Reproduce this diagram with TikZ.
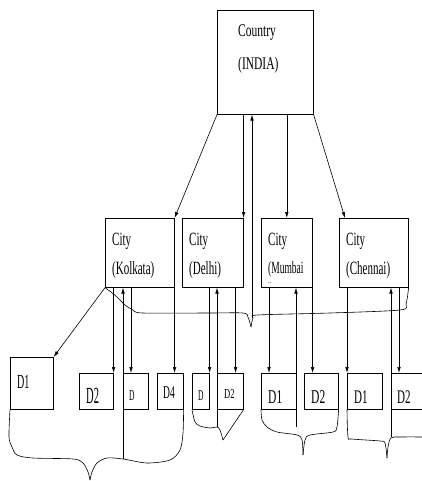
\documentclass[tikz,border=0pt]{standalone}
\usepackage{fontspec}
\setmainfont{Liberation Serif}
\usepackage{graphicx}
\usetikzlibrary{arrows.meta,calc}
\newcommand\stxt[3]{\fontsize{#1}{#1}\selectfont\scalebox{1}[#2]{#3}}
\begin{document}
\begin{tikzpicture}[x=1pt,y=-1pt,
  box/.style={draw, line width=0.6pt, inner sep=0pt, anchor=north west},
  lbl/.style={anchor=base west, inner sep=0pt},
  arr/.style={-{Latex[length=6pt,width=3.6pt]}, line width=0.6pt},
  ln/.style={line width=0.6pt},
  brace/.style={line width=0.6pt, smooth, tension=0.5}]
\useasboundingbox (0,0) rectangle (421,481);
% boxes
\node[box, minimum width=96pt, minimum height=104pt] (country) at (217,10) {};
\node[box, minimum width=69pt, minimum height=69pt] (kol) at (105,218) {};
\node[box, minimum width=61pt, minimum height=69pt] (del) at (182,218) {};
\node[box, minimum width=51pt, minimum height=69pt] (mum) at (261,218) {};
\node[box, minimum width=69pt, minimum height=69pt] (che) at (339,218) {};
\node[box, minimum width=43pt, minimum height=52pt] (k1) at (10,357) {};
\node[box, minimum width=34pt, minimum height=36pt] (k2) at (79,373) {};
\node[box, minimum width=25pt, minimum height=36pt] (k3) at (123,373) {};
\node[box, minimum width=26pt, minimum height=36pt] (k4) at (157,373) {};
\node[box, minimum width=17pt, minimum height=36pt] (d1) at (192,373) {};
\node[box, minimum width=26pt, minimum height=36pt] (d2) at (217,373) {};
\node[box, minimum width=35pt, minimum height=36pt] (m1) at (261,373) {};
\node[box, minimum width=34pt, minimum height=36pt] (m2) at (304,373) {};
\node[box, minimum width=35pt, minimum height=36pt] (c1) at (347,373) {};
\node[box, minimum width=35pt, minimum height=36pt] (c2) at (391,373) {};
% labels
\node[lbl] (tc1) at (238,37) {\stxt{11.5}{1.55}{Country}};
\node[lbl] (tc2) at (238,70) {\stxt{11.5}{1.55}{(INDIA)}};
\node[lbl] (tk1) at (112,245) {\stxt{11}{1.7}{City}};
\node[lbl] (tk2) at (112,274) {\stxt{11}{1.7}{(Kolkata)}};
\node[lbl] (td1) at (189,245) {\stxt{11}{1.7}{City}};
\node[lbl] (td2) at (189,274) {\stxt{11}{1.7}{(Delhi)}};
\node[lbl] (tm1) at (268,245) {\stxt{11}{1.7}{City}};
\node[lbl] (tm2) at (268,273) {\stxt{9.5}{1.8}{(Mumbai}};
\node[lbl] (tm3) at (268,283) {\stxt{7}{1}{..}};
\node[lbl] (th1) at (346,245) {\stxt{11}{1.7}{City}};
\node[lbl] (th2) at (346,274) {\stxt{11}{1.7}{(Chennai)}};
\node[lbl] (lk1) at (17,388) {\stxt{10}{2}{D1}};
\node[lbl] (lk2) at (86,403) {\stxt{10.5}{2.2}{D2}};
\node[lbl] (lk3) at (129,400) {\stxt{7.5}{2}{D}};
\node[lbl] (lk4) at (163,398) {\stxt{9.5}{1.9}{D4}};
\node[lbl] (ld1) at (198,400) {\stxt{7.5}{2}{D}};
\node[lbl] (ld2) at (224,398) {\stxt{8.5}{1.6}{D2}};
\node[lbl] (lm1) at (268,403) {\stxt{11.5}{1.7}{D1}};
\node[lbl] (lm2) at (311,403) {\stxt{11.5}{1.7}{D2}};
\node[lbl] (lc1) at (354,403) {\stxt{11}{1.75}{D1}};
\node[lbl] (lc2) at (397,403) {\stxt{11}{1.75}{D2}};
% top connectors
\draw[arr] (country.south west) -- (kol.north east);
\draw[arr] (country.south -| del.north east) -- (del.north east);
\coordinate (tUp) at (252,318);
\draw[arr] (tUp) -- (tUp |- country.south);
\draw[arr] (country.south -| mum.north) -- (mum.north);
\draw[arr] (country.south east) -- ($(che.north west)+(6,0)$);
% Kolkata
\draw[arr] (kol.south west) -- (k1.north east);
\draw[arr] (kol.south -| k2.north east) -- (k2.north east);
\coordinate (k3in) at ($(k3.north west)+(8,0)$);
\draw[arr] (kol.south -| k3in) -- (k3in);
\draw[arr] (kol.south east) -- (kol.south east |- k4.north);
\coordinate (kUp) at (123,459);
\draw[arr] (kUp) -- (kUp |- kol.south);
% Delhi
\draw[arr] (del.south -| d1.north east) -- (d1.north east);
\coordinate (dUp) at (217,427);
\draw[arr] (dUp) -- (dUp |- del.south);
\coordinate (d2in) at ($(d2.north east)+(-8,0)$);
\draw[arr] (del.south -| d2in) -- (d2in);
% Mumbai
\coordinate (m1in) at ($(m1.north west)+(8,0)$);
\draw[arr] (mum.south -| m1in) -- (m1in);
\coordinate (mUp) at (296,427);
\draw[arr] (mUp) -- (mUp |- mum.south);
\draw[arr] (mum.south east) -- (mum.south east |- m2.north);
% Chennai
\draw[arr] (che.south -| c1.north west) -- (c1.north west);
\coordinate (cUp) at (391,437);
\draw[arr] (cUp) -- (cUp |- che.south);
\coordinate (c2in) at ($(c2.north west)+(8,0)$);
\draw[arr] (che.south -| c2in) -- (c2in);
% braces
\draw[brace] plot coordinates {(kol.south west) (111,292) (117,297) (125,305) (133,310) (143,313) (210,313) (243,313) (248,317) (251,327)};
\draw[brace] plot coordinates {(251,327) (253,318) (258,315) (330,313) (400,310) (406,304) (che.south east)};
\draw[brace] plot coordinates {(k1.south west) (9,437) (12,447) (17,455) (33,458) (73,459) (83,463) (88,472) (90,480)};
\draw[brace] plot coordinates {(90,480) (92,472) (97,463) (107,458) (123,459) (147,463) (170,460) (180,450) (183,433) (k4.south east)};
\draw[brace] plot coordinates {(d1.south west) (195,422) (200,426) (210,428) (217,427) (220,430) (223,440)};
\draw[ln] (223,440) -- (d2.south east);
\draw[brace] plot coordinates {(m1.south west) (262,420) (267,427) (277,432) (297,435) (302,440) (303,455)};
\draw[brace] plot coordinates {(303,455) (305,440) (310,435) (333,432) (337,427) (m2.south east)};
\draw[brace] plot coordinates {(c1.south west) (348,437) (352,439) (380,441) (385,443) (387,458)};
\draw[brace] plot coordinates {(387,458) (388,447) (391,438) (400,437) (430,437)};
\end{tikzpicture}
\end{document}
